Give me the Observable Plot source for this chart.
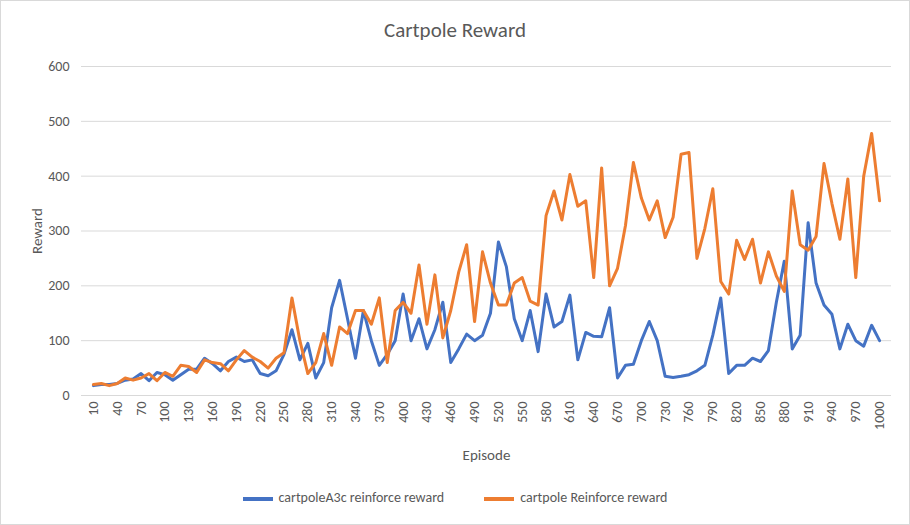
<!DOCTYPE html>
<html><head><meta charset="utf-8">
<script src="https://cdn.jsdelivr.net/npm/d3@7"></script>
<script src="https://cdn.jsdelivr.net/npm/@observablehq/plot@0.6"></script>
<style>
body{margin:0;background:#fff;font-family:Calibri,Carlito,"Liberation Sans",sans-serif;}
#wrap{position:relative;width:908px;height:523px;border:1px solid #d9d9d9;}
#title{position:absolute;top:16px;left:0;width:908px;text-align:center;font-size:21px;color:#595959;}
#legend{position:absolute;top:488px;left:0;width:908px;display:flex;justify-content:center;gap:40px;font-size:14px;color:#595959;}
.sw{display:inline-block;width:30px;height:4px;vertical-align:middle;margin-right:6px;}
</style></head><body>
<div id="wrap"><div id="title">Cartpole Reward</div>
<div id="chart"></div>
<div id="legend"><span><span class="sw" style="background:#4472c4"></span>cartpoleA3c reinforce reward</span><span><span class="sw" style="background:#ed7d31"></span>cartpole Reinforce reward</span></div>
</div>
<script>
const episodes = d3.range(10, 1001, 10);
const a3c = [18,20,20,22,28,30,40,27,42,38,28,38,48,48,68,58,45,62,70,62,65,40,36,45,75,120,65,95,32,60,160,210,140,68,155,100,55,75,100,185,100,140,85,120,170,60,85,112,100,110,150,280,235,140,100,155,80,185,125,135,183,65,115,108,107,160,32,55,57,100,135,100,35,33,35,38,45,55,110,178,40,55,55,68,62,82,170,245,85,110,315,205,165,148,85,130,100,90,128,100];
const reinforce = [20,22,18,22,32,28,32,40,27,42,35,55,53,42,65,60,58,45,65,82,70,62,50,68,78,178,100,40,60,113,55,125,113,155,155,130,178,60,155,170,150,238,130,220,105,155,225,275,135,262,205,165,165,205,215,172,165,328,373,320,403,345,355,215,415,200,232,310,425,360,320,355,288,325,440,443,250,305,377,208,185,283,248,285,205,262,218,190,373,275,265,290,423,350,285,395,215,400,478,355];
const xTicks = d3.range(10, 1001, 30);
const yTicks = [0,100,200,300,400,500,600];
const rows = [];
episodes.forEach((e,i)=>{rows.push({e,v:a3c[i],s:"a3c"});rows.push({e,v:reinforce[i],s:"rf"});});
const chart = Plot.plot({
  width:908, height:523, marginTop:65, marginBottom:129, marginLeft:80, marginRight:18,
  style:{fontFamily:"Calibri,Carlito,'Liberation Sans',sans-serif",fontSize:"14px",color:"#595959"},
  x:{domain:[-5,1015], ticks:xTicks, tickRotate:-90, tickSize:0, tickPadding:6, label:"Episode", labelArrow:false, labelAnchor:"center", labelOffset:64, tickFormat:d=>String(d)},
  y:{domain:[0,600], ticks:yTicks, tickSize:0, tickPadding:12, label:"Reward", labelArrow:false, labelAnchor:"center", labelOffset:50},
  color:{domain:["a3c","rf"], range:["#4472c4","#ed7d31"]},
  marks:[
    Plot.ruleY(yTicks,{stroke:"#d9d9d9"}),
    Plot.line(rows,{x:"e",y:"v",z:"s",stroke:"s",strokeWidth:3,strokeLinejoin:"round"})
  ]
});
chart.querySelectorAll("text").forEach(t=>t.setAttribute("fill","#595959"));
chart.querySelectorAll("[aria-label='x-axis label'] text,[aria-label='y-axis label'] text").forEach(t=>t.style.fontSize="15px");
document.getElementById("chart").appendChild(chart);
</script></body></html>
